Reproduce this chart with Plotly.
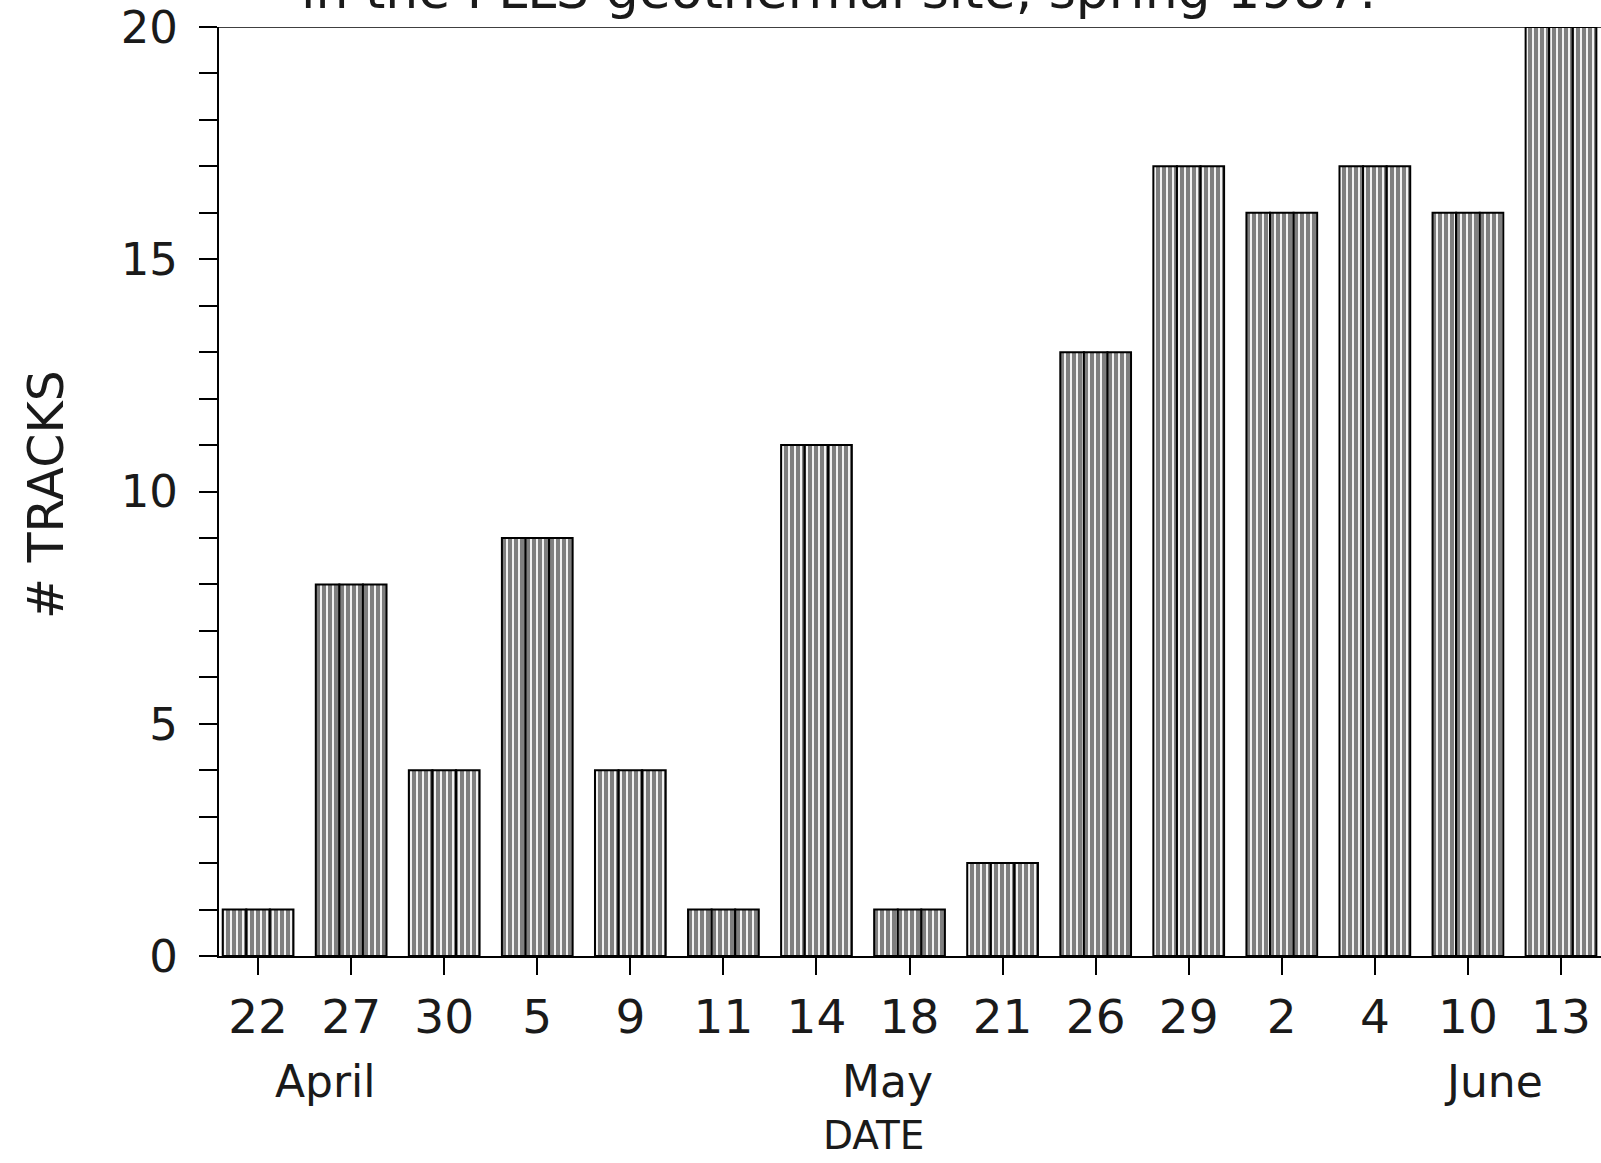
import plotly.graph_objects as go

dates = ["22", "27", "30", "5", "9", "11", "14", "18", "21", "26", "29", "2", "4", "10", "13"]
tracks = [1, 8, 4, 9, 4, 1, 11, 1, 2, 13, 17, 16, 17, 16, 20]
months = ["April", "May", "June"]
month_pos = [325, 887, 1493]  # pixel centres of month labels
title_text = "in the PLLS geothermal site, spring 1987."

W, H = 1601, 1163
L, R, T, B = 219, 0, 27, 207
x_idx = list(range(len(dates)))

FONT = "DejaVu Sans"
INK = "#1a1a1a"

fig = go.Figure()
for k in range(3):
    fig.add_trace(go.Bar(
        x=x_idx, y=tracks,
        marker=dict(
            color="white",
            line=dict(color="black", width=2),
            pattern=dict(shape="|", fgcolor="black", bgcolor="white", size=6, solidity=0.7),
        ),
        showlegend=False,
        hoverinfo="skip",
    ))

fig.update_layout(
    width=W, height=H,
    margin=dict(l=L, r=R, t=T, b=B, pad=0),
    paper_bgcolor="white", plot_bgcolor="white",
    barmode="group", bargap=0.24, bargroupgap=0.0,
    font=dict(family=FONT, color=INK),
)

fig.update_xaxes(
    range=[-0.42, 14.43],
    tickmode="array", tickvals=x_idx, ticktext=dates,
    ticks="outside", ticklen=17, tickwidth=1.5, tickcolor="black",
    tickfont=dict(size=47, family=FONT, color=INK),
    ticklabelstandoff=2,
    showline=True, linecolor="black", linewidth=1.5,
    showgrid=False, zeroline=False,
)
fig.update_yaxes(
    range=[0, 20],
    tickmode="array", tickvals=[0, 5, 10, 15, 20],
    ticks="outside", ticklen=18, tickwidth=1.5, tickcolor="black",
    minor=dict(dtick=1, ticks="outside", ticklen=18, tickwidth=1.5, tickcolor="black"),
    tickfont=dict(size=45, family=FONT, color=INK),
    ticklabelstandoff=12,
    showline=True, linecolor="black", linewidth=2,
    showgrid=False, zeroline=False,
)

# top frame line
fig.add_shape(type="line", xref="x", yref="y", x0=-0.42, x1=14.43, y0=20, y1=20,
              line=dict(color="black", width=1.5), layer="below")

# y axis title
fig.add_annotation(text="# TRACKS", xref="paper", yref="paper",
                   x=(46 - L) / (W - L - R), y=(H - B - 495) / (H - T - B),
                   xanchor="center", yanchor="middle", textangle=-90, showarrow=False,
                   font=dict(size=49, family=FONT, color=INK))

def px_to_px(px):
    return (px - L) / (W - L - R)

def py_to_py(py):
    return (H - B - py) / (H - T - B)

for m, p in zip(months, month_pos):
    fig.add_annotation(text=m, xref="paper", yref="paper",
                       x=px_to_px(p), y=py_to_py(1081), xanchor="center", yanchor="middle",
                       showarrow=False, font=dict(size=44, family=FONT, color=INK))

fig.add_annotation(text="DATE", xref="paper", yref="paper",
                   x=px_to_px(873), y=py_to_py(1135), xanchor="center", yanchor="middle",
                   showarrow=False, font=dict(size=39, family=FONT, color=INK))

fig.add_annotation(text=title_text, xref="paper", yref="paper",
                   x=px_to_px(838), y=py_to_py(22), xanchor="center", yanchor="bottom",
                   showarrow=False, font=dict(size=52, family=FONT, color=INK))

fig.write_html("out.html")
